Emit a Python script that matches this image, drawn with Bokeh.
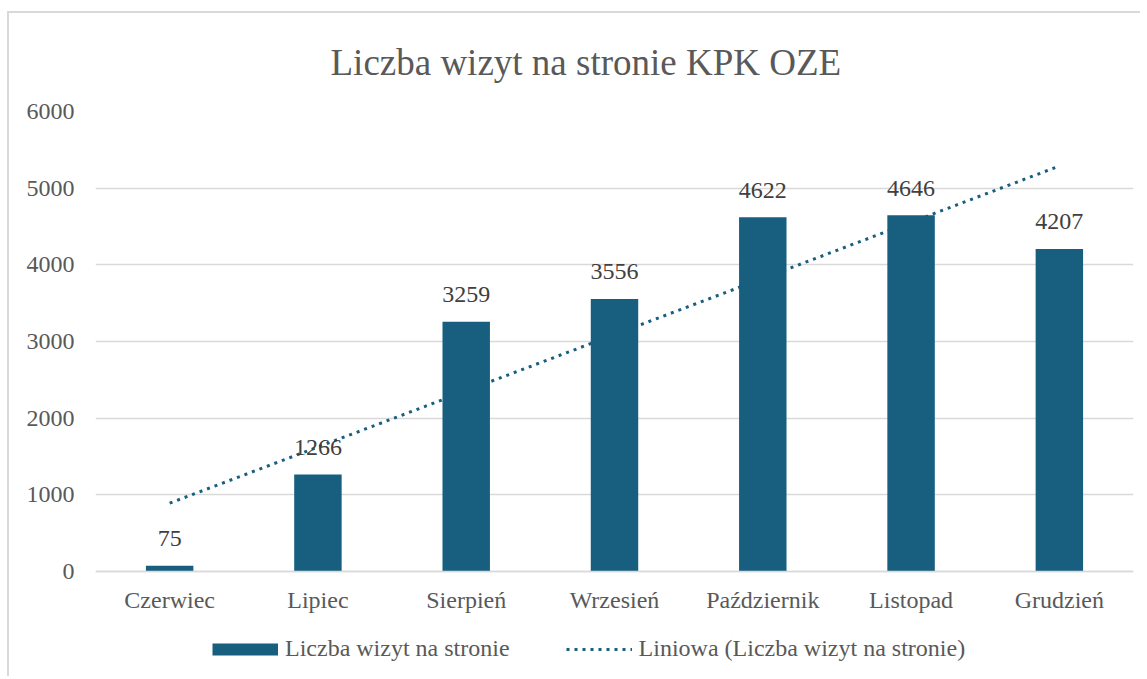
import numpy as np
from bokeh.plotting import figure
from bokeh.models import ColumnDataSource, FixedTicker, Legend, LegendItem, FactorRange, Range1d
from bokeh.core.properties import value
from bokeh.embed import file_html
from bokeh.resources import INLINE

# ---- data ----
months = ["Czerwiec", "Lipiec", "Sierpień", "Wrzesień", "Październik", "Listopad", "Grudzień"]
visits = [75, 1266, 3259, 3556, 4622, 4646, 4207]
y_ticks = [0, 1000, 2000, 3000, 4000, 5000, 6000]
title_text = "Liczba wizyt na stronie KPK OZE"
bar_label = "Liczba wizyt na stronie"
trend_label = "Liniowa (Liczba wizyt na stronie)"

# linear trend line (least-squares fit of the series, as in the spreadsheet)
idx = np.arange(1, len(visits) + 1)
slope, intercept = np.polyfit(idx, visits, 1)
trend = [float(slope * i + intercept) for i in idx]

FONT = "'Liberation Serif', 'Times New Roman', Tinos, serif"
BAR = "#175E7F"
GRID = "#d9d9d9"
TXT = "#595959"

# frame reaches the bottom of the canvas; the x axis is pinned at y=0 and the
# legend sits in the empty band below it
Y_MIN, Y_MAX = -1317, 6000

p = figure(
    x_range=FactorRange(*months), y_range=Range1d(Y_MIN, Y_MAX),
    width=1140, height=676, output_backend="svg", toolbar_location=None,
    min_border_left=95, min_border_right=7, min_border_top=111, min_border_bottom=4,
)
p.border_fill_color = None
p.background_fill_color = None
p.outline_line_color = None
p.styles = {
    "background-image": "linear-gradient(#d9d9d9,#d9d9d9), linear-gradient(#d9d9d9,#d9d9d9)",
    "background-size": "100% 2px, 2px 100%",
    "background-position": "7px 11px, 7px 11px",
    "background-repeat": "no-repeat",
}

# title
p.title.text = title_text
p.title.text_font = FONT
p.title.text_font_size = "37px"
p.title.text_font_style = "normal"
p.title.text_color = TXT
p.title.align = "left"
p.title.offset = 235
p.title.standoff = 57

src = ColumnDataSource(dict(m=months, v=visits, lbl=[str(v) for v in visits], t=trend))

p.vbar(x="m", top="v", width=0.32, source=src, fill_color=BAR, line_color=None)
r_trend = p.line(x="m", y="t", source=src, line_color=BAR, line_width=3, line_dash="3 5")
p.text(x="m", y="v", text="lbl", source=src, text_align="center", text_baseline="alphabetic",
       y_offset=-27, text_font=value(FONT), text_font_size="24px", text_color="#404040")

# legend swatch for bars (thick line gives a wide rectangle; its single point is NaN so nothing is drawn)
r_sw = p.line(x="x", y="y", source=ColumnDataSource(dict(x=[months[0]], y=[float("nan")])),
              line_color=BAR, line_width=12, line_cap="butt")

legend = Legend(
    items=[LegendItem(label=bar_label, renderers=[r_sw]),
           LegendItem(label=trend_label, renderers=[r_trend])],
    location=(117, 10), orientation="horizontal",
    glyph_width=66, glyph_height=24, label_height=24, label_standoff=7, spacing=56,
    padding=0, margin=0, border_line_color=None, background_fill_color=None,
    label_text_font=FONT, label_text_font_size="24px", label_text_color=TXT,
)
p.add_layout(legend)

# axes
p.yaxis.ticker = FixedTicker(ticks=y_ticks)
for ax in (p.xaxis, p.yaxis):
    ax.major_label_text_font = FONT
    ax.major_label_text_font_size = "24px"
    ax.major_label_text_color = TXT
    ax.major_tick_line_color = None
    ax.minor_tick_line_color = None
p.yaxis.axis_line_color = None
p.yaxis.major_label_standoff = 15
p.xaxis.fixed_location = 0
p.xaxis.axis_line_color = GRID
p.xaxis.axis_line_width = 1.5
p.xaxis.major_label_standoff = 9

p.xgrid.grid_line_color = None
p.ygrid.grid_line_color = GRID
p.ygrid.grid_line_width = 1.5

open("out.html", "w").write(file_html(p, INLINE))
